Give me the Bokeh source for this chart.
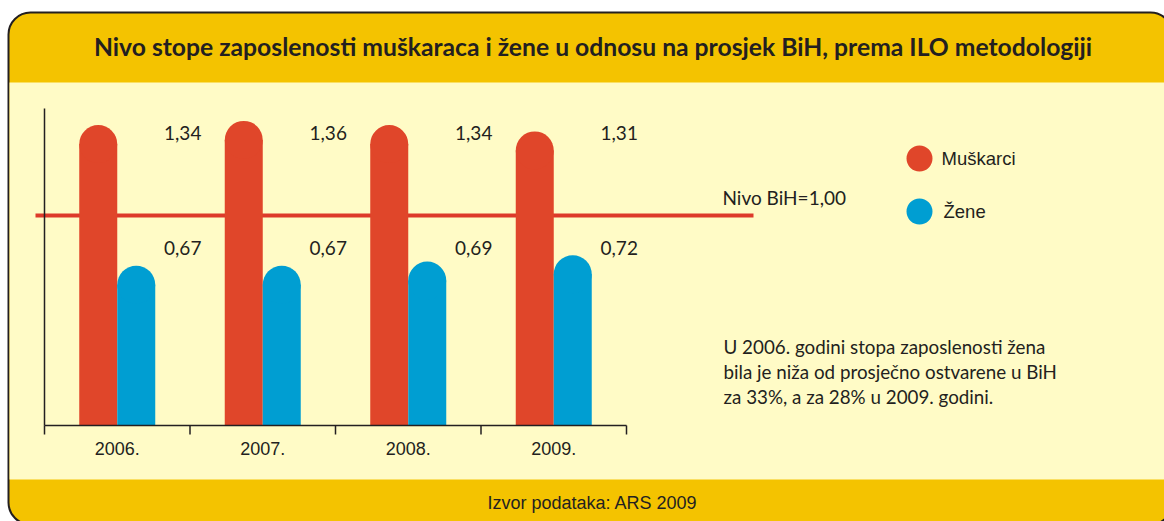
from bokeh.plotting import figure
from bokeh.models import Range1d, BoxAnnotation
from bokeh.core.properties import value
from bokeh.embed import file_html
from bokeh.resources import INLINE

# ---------------- data ----------------
title = "Nivo stope zaposlenosti muškaraca i žene u odnosu na prosjek BiH, prema ILO metodologiji"
years = ["2006.", "2007.", "2008.", "2009."]
men = [1.34, 1.36, 1.34, 1.31]
women = [0.67, 0.67, 0.69, 0.72]
bih_level = 1.00
bih_label = "Nivo BiH=1,00"
series_names = ["Muškarci", "Žene"]
note_lines = [
    "U 2006. godini stopa zaposlenosti žena",
    "bila je niža od prosječno ostvarene u BiH",
    "za 33%, a za 28% u 2009. godini.",
]
source = "Izvor podataka: ARS 2009"

# ---------------- styles ----------------
HEADER = "#F4C300"
BODY = "#FFFBC6"
RED = "#E0462A"
LINE_RED = "#DD3A2A"
BLUE = "#009ED2"
INK = "#231F20"

W, H = 1164, 521
PX_PER_X = 145.5
PX_PER_Y = 210.0
X0_PAGE = 44.0
Y0_PAGE = 425.0
TXT = -8.0  # baseline correction for text placement


def dx(px):
    return (px - X0_PAGE) / PX_PER_X


def dy(py):
    return (Y0_PAGE - py) / PX_PER_Y


def ty(py):
    return dy(py + TXT)


def fmt(v):
    return f"{v:.2f}".replace(".", ",")


p = figure(width=W, height=H, output_backend="svg", toolbar_location=None,
           x_range=Range1d(dx(0), dx(W)), y_range=Range1d(dy(H), dy(0)),
           x_axis_location=None, y_axis_location=None, min_border=0,
           background_fill_color="white", border_fill_color="white")
p.outline_line_color = None
p.grid.visible = False

# frame
frame = BoxAnnotation(left=dx(8), right=dx(1172), top=dy(12), bottom=dy(524),
                      fill_color=HEADER, fill_alpha=1, line_color=INK, line_alpha=1,
                      line_width=2, border_radius=22, level="underlay")
body = BoxAnnotation(left=dx(9), right=dx(1171), top=dy(82), bottom=dy(479),
                     fill_color=BODY, fill_alpha=1, line_color=None, level="underlay")
p.add_layout(frame)
p.add_layout(body)

# title
p.text(x=[dx(592.5)], y=[ty(54)], text=[title], text_font=value("Lato"),
       text_font_style="bold", text_font_size="24.7px", text_align="center",
       text_baseline="alphabetic", text_color=INK)

n = len(years)
xc = [i + 0.5 for i in range(n)]
bw = 38 / PX_PER_X
men_x = [c - bw / 2 for c in xc]
women_x = [c + bw / 2 for c in xc]

# reference line (behind bars)
p.segment(x0=[dx(35)], y0=[bih_level], x1=[dx(753)], y1=[bih_level],
          line_color=LINE_RED, line_width=4)

# bars with rounded tops
p.vbar(x=men_x, top=men, bottom=0, width=bw, fill_color=RED, line_color=None)
p.circle(x=men_x, y=men, radius=bw / 2, fill_color=RED, line_color=None)
p.vbar(x=women_x, top=women, bottom=0, width=bw, fill_color=BLUE, line_color=None)
p.circle(x=women_x, y=women, radius=bw / 2, fill_color=BLUE, line_color=None)

# axes
p.segment(x0=[0], y0=[0], x1=[0], y1=[dy(108)], line_color=INK, line_width=1.5)
p.segment(x0=[0], y0=[0], x1=[n], y1=[0], line_color=INK, line_width=1.5)
ticks = list(range(n + 1))
p.segment(x0=ticks, y0=[0] * len(ticks), x1=ticks, y1=[dy(434)] * len(ticks),
          line_color=INK, line_width=1.5)
p.text(x=xc, y=[ty(456)] * n, text=years, text_font=value("Liberation Sans"),
       text_font_size="18px", text_align="center", text_baseline="alphabetic",
       text_color=INK)

# value labels
lab_x = [c + 0.45 for c in xc]
p.text(x=lab_x, y=[ty(140)] * n, text=[fmt(v) for v in men], text_font=value("Lato"),
       text_font_size="19px", text_align="center", text_baseline="alphabetic",
       text_color=INK)
p.text(x=lab_x, y=[ty(255)] * n, text=[fmt(v) for v in women], text_font=value("Lato"),
       text_font_size="19px", text_align="center", text_baseline="alphabetic",
       text_color=INK)

# BiH label
p.text(x=[dx(722)], y=[ty(205)], text=[bih_label], text_font=value("Lato"),
       text_font_size="19px", text_align="left", text_baseline="alphabetic",
       text_color=INK)

# legend
p.scatter(x=[dx(919), dx(919)], y=[dy(158), dy(211)], size=26,
          fill_color=[RED, BLUE], line_color=None)
p.text(x=[dx(941), dx(943)], y=[ty(166), ty(219)], text=series_names,
       text_font=value("Liberation Sans"), text_font_size="18.5px",
       text_align="left", text_baseline="alphabetic", text_color=INK)

# note
p.text(x=[dx(723)] * len(note_lines), y=[ty(354 + 25 * i) for i in range(len(note_lines))],
       text=note_lines, text_font=value("Lato"), text_font_size="18.8px",
       text_align="left", text_baseline="alphabetic", text_color=INK)

# source
p.text(x=[dx(592)], y=[ty(510)], text=[source], text_font=value("Liberation Sans"),
       text_font_size="18px", text_align="center", text_baseline="alphabetic",
       text_color=INK)

open("out.html", "w").write(file_html(p, INLINE))
